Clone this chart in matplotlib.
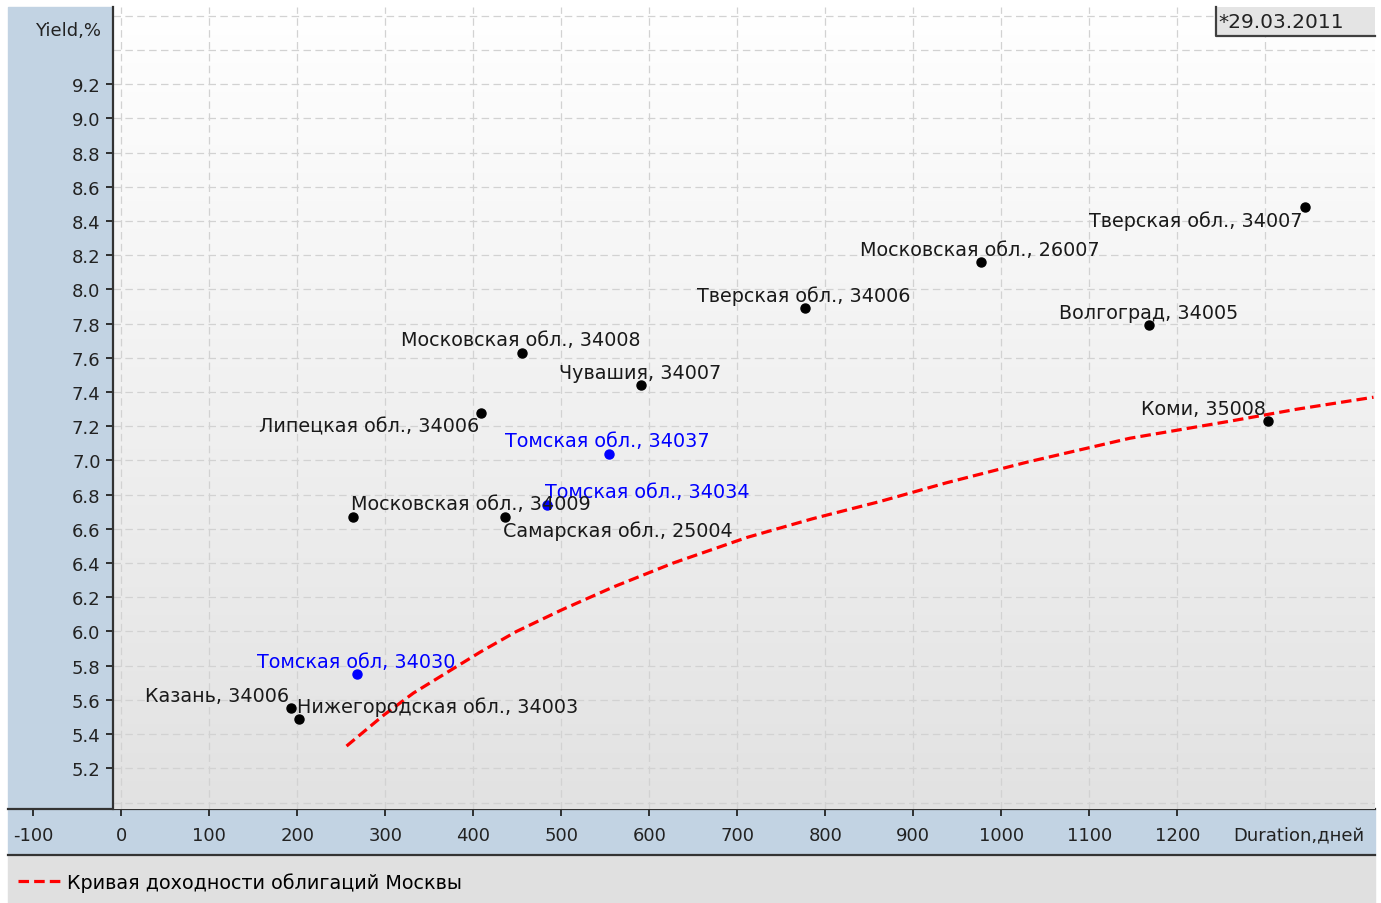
#!/usr/bin/env python
"""Yield vs duration map of regional bonds against the Moscow yield curve."""

import matplotlib

matplotlib.use("Agg")
import matplotlib.pyplot as plt
import numpy as np
from matplotlib.colors import LinearSegmentedColormap
from matplotlib.lines import Line2D
from matplotlib.patches import Rectangle
from matplotlib.ticker import FixedLocator

# --- data ----------------------------------------------------------------
bond_names = [
    "Тверская обл., 34007",
    "Московская обл., 26007",
    "Тверская обл., 34006",
    "Волгоград, 34005",
    "Московская обл., 34008",
    "Чувашия, 34007",
    "Липецкая обл., 34006",
    "Коми, 35008",
    "Томская обл., 34037",
    "Томская обл., 34034",
    "Московская обл., 34009",
    "Самарская обл., 25004",
    "Томская обл, 34030",
    "Казань, 34006",
    "Нижегородская обл., 34003",
]
bond_duration = [1345, 977, 777, 1168, 455, 591, 409, 1303, 554, 484, 263, 436, 268, 193, 202]
bond_yield = [8.48, 8.16, 7.89, 7.79, 7.63, 7.44, 7.28, 7.23, 7.04, 6.74, 6.67, 6.67, 5.75, 5.55, 5.49]
bond_is_tomsk = [False] * 8 + [True, True, False, False, True, False, False]

curve_duration = [256, 298, 332, 370, 408, 449, 502, 559, 627, 711, 786, 862, 938, 1029,
                  1146, 1260, 1336, 1423]
curve_yield = [5.33, 5.51, 5.64, 5.76, 5.88, 6.00, 6.13, 6.26, 6.40, 6.55, 6.66, 6.76, 6.87,
               6.99, 7.13, 7.23, 7.30, 7.37]
curve_label = "Кривая доходности облигаций Москвы"

x_ticks = list(range(-100, 1300, 100))
x_grid = list(range(0, 1400, 100))
y_ticks = [5.2, 5.4, 5.6, 5.8, 6.0, 6.2, 6.4, 6.6, 6.8, 7.0, 7.2, 7.4, 7.6, 7.8, 8.0,
           8.2, 8.4, 8.6, 8.8, 9.0, 9.2]
y_grid_extra = [5.0, 9.4, 9.6]
date_text = "*29.03.2011"

# where each label sits relative to its dot: (horizontal alignment, above/below)
label_place = [
    ("right", "below"), ("center", "above"), ("center", "above"), ("center", "above"),
    ("center", "above"), ("center", "above"), ("right", "below"), ("right", "above"),
    ("center", "above"), ("left", "above"), ("left", "above"), ("left", "below"),
    ("center", "above"), ("right", "above"), ("left", "above"),
]

W, H = 1381, 904
STRIP = "#C2D3E3"
TICK_FONT = 13
LABEL_FONT = 13.8


def fx(px):
    return px / W


def fy(py):
    return 1 - py / H


def main() -> None:
    plt.rcParams["font.family"] = ["DejaVu Sans"]
    fig = plt.figure(figsize=(W / 100, H / 100), dpi=100)

    xlim_plot = (-9.4, 1424.7)
    xlim_full = (-128.75, 1424.7)
    ylim = (4.962, 9.652)

    # background panels
    for x0, y0, x1, y1, col in [(8, 8, 113, 810, STRIP), (8, 810, 1375, 856, STRIP),
                                (8, 856, 1375, 904, "#E0E0E0")]:
        fig.add_artist(Rectangle((fx(x0), fy(y1)), fx(x1 - x0), (y1 - y0) / H,
                                 transform=fig.transFigure, color=col, zorder=-2))
    fig.add_artist(Line2D([fx(8), fx(1375)], [fy(856), fy(856)], transform=fig.transFigure,
                          color="#333333", lw=1.6, zorder=-1))

    # x axis strip (reaches under the y panel, so it gets its own axes)
    ax_x = fig.add_axes([fx(8), fy(810), fx(1375 - 8), 802 / H])
    ax_x.patch.set_visible(False)
    ax_x.set_xlim(*xlim_full)
    ax_x.set_yticks([])
    for side in ("top", "left", "right"):
        ax_x.spines[side].set_visible(False)
    ax_x.spines["bottom"].set_color("#333333")
    ax_x.spines["bottom"].set_linewidth(1.6)
    ax_x.set_xticks(x_ticks)
    ax_x.set_xticklabels([str(v) for v in x_ticks])
    ax_x.tick_params(axis="x", direction="out", length=5, width=1.3, color="#222222",
                     labelsize=TICK_FONT, labelcolor="#222222", pad=7)

    # main plot area
    ax = fig.add_axes([fx(113), fy(810), fx(1375 - 113), 802 / H], zorder=1)
    ax.patch.set_visible(False)
    cmap = LinearSegmentedColormap.from_list("bg", ["#E2E2E2", "#FFFFFF"])
    ax.imshow(np.linspace(0, 1, 256).reshape(-1, 1), extent=(*xlim_plot, *ylim),
              aspect="auto", cmap=cmap, origin="lower", zorder=0)
    ax.set_xlim(*xlim_plot)
    ax.set_ylim(*ylim)
    for side in ("top", "right", "bottom"):
        ax.spines[side].set_visible(False)
    ax.spines["left"].set_color("#333333")
    ax.spines["left"].set_linewidth(1.6)

    ax.set_xticks(x_grid)
    ax.tick_params(axis="x", length=0, labelbottom=False)
    ax.set_yticks(y_ticks)
    ax.set_yticklabels([f"{v:.1f}" for v in y_ticks])
    ax.yaxis.set_minor_locator(FixedLocator(y_grid_extra))
    ax.tick_params(axis="y", which="major", direction="out", length=5, width=1.3,
                   color="#222222", labelsize=TICK_FONT, labelcolor="#222222", pad=4)
    ax.tick_params(axis="y", which="minor", length=0)
    ax.set_axisbelow(True)
    ax.grid(True, which="both", color="#D2D2D2", lw=0.9, linestyle=(0, (6, 3.5)))

    # Moscow curve
    ax.plot(curve_duration, curve_yield, color="#FF0000", lw=2.3,
            linestyle=(0, (3.3, 1.6)), label=curve_label, zorder=3)

    # bonds
    for name, d, y, tomsk, (ha, where) in zip(bond_names, bond_duration, bond_yield,
                                              bond_is_tomsk, label_place):
        col = "#0000FF" if tomsk else "#000000"
        ax.plot(d, y, "o", color=col, ms=6.5, zorder=4)
        dx = {"left": -2, "center": -1, "right": -2}[ha]
        dy = 13 if where == "above" else -13
        ax.annotate(name, (d, y), xytext=(dx, dy), textcoords="offset pixels", ha=ha,
                    va="center", fontsize=LABEL_FONT,
                    color="#0000FF" if tomsk else "#1A1A1A", zorder=5)

    # axis captions
    fig.text(fx(101), fy(31), "Yield,%", ha="right", va="center", fontsize=TICK_FONT,
             color="#222222")
    fig.text(fx(1364), fy(835), "Duration,дней", ha="right", va="center",
             fontsize=TICK_FONT, color="#222222")

    # date box
    fig.add_artist(Rectangle((fx(1215), fy(37)), fx(1375 - 1215), 29 / H,
                             transform=fig.transFigure, facecolor="#E4E4E4", edgecolor="none",
                             zorder=6))
    fig.add_artist(Line2D([fx(1216), fx(1216), fx(1375)], [fy(8), fy(37), fy(37)],
                          transform=fig.transFigure, color="#404040", lw=1.6, zorder=7))
    fig.text(fx(1218), fy(23), date_text, ha="left", va="center", fontsize=14.5,
             color="#222222", zorder=8)

    # legend
    ax.legend(loc="center left", bbox_to_anchor=(fx(18), fy(883)),
              bbox_transform=fig.transFigure, frameon=False, fontsize=LABEL_FONT,
              handlelength=2.3, handletextpad=0.25, borderpad=0, borderaxespad=0)

    fig.savefig("out.png", dpi=100)
    plt.close(fig)


if __name__ == "__main__":
    main()
